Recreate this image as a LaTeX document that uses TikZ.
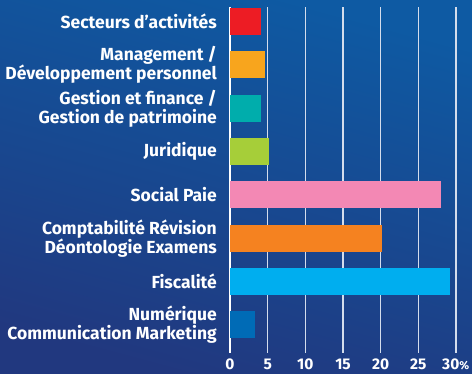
\documentclass[tikz,border=0pt]{standalone}
\usepackage{fontspec}
\setmainfont{Fira Sans}
\definecolor{bgtop}{HTML}{0E5AA3}
\definecolor{bgbottom}{HTML}{21387F}
\definecolor{gridcol}{HTML}{D4DDEC}
\definecolor{barred}{HTML}{ED1C24}
\definecolor{baryellow}{HTML}{F8A51D}
\definecolor{barteal}{HTML}{00ADAC}
\definecolor{bargreen}{HTML}{A6CE39}
\definecolor{barpink}{HTML}{F388B4}
\definecolor{barorange}{HTML}{F58220}
\definecolor{barcyan}{HTML}{00AEEF}
\definecolor{barblue}{HTML}{006BB6}
\begin{document}
\begin{tikzpicture}[x=1pt, y=-1pt, every node/.style={text=white, inner sep=0pt},
        catlabel/.style={anchor=east, align=right, font=\fontsize{17.5}{19}\selectfont\bfseries},
        ticklabel/.style={font=\fontsize{15.5}{17}\selectfont\bfseries}]
        % Hintergrund
        \shade[top color=bgtop, bottom color=bgbottom, shading angle=-15] (0,0) rectangle (472,373);

        % Gitterlinien (0 bis 30 %)
        \draw[white, line width=1.2pt] (230,7) -- (230,353);
        \draw[gridcol, line width=1.2pt] (267.7,7) -- (267.7,353);
        \draw[gridcol, line width=1.2pt] (305.3,7) -- (305.3,353);
        \draw[gridcol, line width=1.2pt] (343,7) -- (343,353);
        \draw[gridcol, line width=1.2pt] (380.7,7) -- (380.7,353);
        \draw[gridcol, line width=1.2pt] (418.3,7) -- (418.3,353);
        \draw[gridcol, line width=1.2pt] (456,7) -- (456,353);

        % Achsenbeschriftung
        \node[ticklabel] (t0) at (230,364) {0};
        \node[ticklabel] (t5) at (267.7,364) {5};
        \node[ticklabel] (t10) at (305.3,364) {10};
        \node[ticklabel] (t15) at (343,364) {15};
        \node[ticklabel] (t20) at (380.7,364) {20};
        \node[ticklabel] (t25) at (418.3,364) {25};
        \node[ticklabel] (t30) at (455.7,364) {30{\fontsize{11.5}{12}\selectfont\%}};

        % Balken
        \fill[barred] (230,8) rectangle (261,34.7);
        \fill[baryellow] (230,51.3) rectangle (265,78);
        \fill[barteal] (230,95) rectangle (261,121.7);
        \fill[bargreen] (230,138) rectangle (269,164.7);
        \fill[barpink] (230,181) rectangle (441,207.7);
        \fill[barorange] (230,225) rectangle (382,251.7);
        \fill[barcyan] (230,268.3) rectangle (450,295);
        \fill[barblue] (230,311) rectangle (255,337.7);

        % Kategorien
        \node[catlabel] (secteurs) at (217,21.3) {Secteurs d’activités};
        \node[catlabel] (management) at (217,64.3) {Management /\\Développement personnel};
        \node[catlabel] (gestion) at (217,108.3) {Gestion et finance /\\Gestion de patrimoine};
        \node[catlabel] (juridique) at (217,151.3) {Juridique};
        \node[catlabel] (social) at (217,194.3) {Social Paie};
        \node[catlabel] (compta) at (217,238.3) {Comptabilité Révision\\Déontologie Examens};
        \node[catlabel] (fiscalite) at (217,281.7) {Fiscalité};
        \node[catlabel] (numerique) at (217,324.3) {Numérique\\Communication Marketing};
\end{tikzpicture}
\end{document}
